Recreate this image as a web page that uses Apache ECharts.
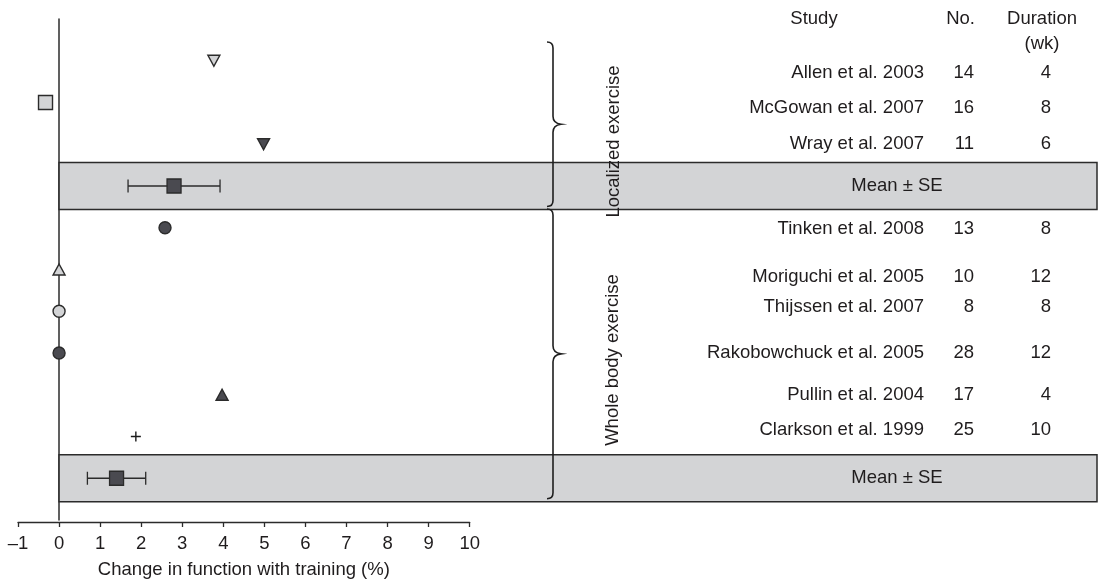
<!DOCTYPE html>
<html>
<head>
<meta charset="utf-8">
<title>Change in function with training</title>
<script src="https://cdn.jsdelivr.net/npm/echarts@6/dist/echarts.min.js"></script>
<style>
  html, body { margin: 0; padding: 0; background: #ffffff; }
  #chart { width: 1101px; height: 584px; }
</style>
</head>
<body>
<div id="chart"></div>
<script>
// ---- Data ---------------------------------------------------------------
const studies = [
  'Allen et al. 2003', 'McGowan et al. 2007', 'Wray et al. 2007',
  'Tinken et al. 2008', 'Moriguchi et al. 2005', 'Thijssen et al. 2007',
  'Rakobowchuck et al. 2005', 'Pullin et al. 2004', 'Clarkson et al. 1999'
];
const subjects = [14, 16, 11, 13, 10, 8, 28, 17, 25];
const durationWk = [4, 8, 6, 8, 12, 8, 12, 4, 10];
const changePct = [3.77, -0.33, 4.98, 2.58, 0, 0, 0, 3.97, 1.87];
const studyGroup = [0, 0, 0, 1, 1, 1, 1, 1, 1];
const groupNames = ['Localized exercise', 'Whole body exercise'];
const groupMean = [2.8, 1.4];
const groupSE = [1.12, 0.71];
const xTickMin = -1, xTickMax = 10, xTickStep = 1;

// ---- Styles & layout ----------------------------------------------------
const FONT = '"Liberation Sans", Arial, Helvetica, sans-serif';
const TEXT = '#1f1c1d';
const LINE = '#2b2b2b';
const LIGHT = '#d3d4d6';
const DARK = '#4a4a50';
const PLUS = 'path://M4.3,0h1.4v4.3h4.3v1.4h-4.3v4.3h-1.4v-4.3h-4.3v-1.4h4.3z';
const markerStyle = [
  { symbol: 'triangle', rotate: 180, fill: LIGHT, size: [12, 11] },
  { symbol: 'rect', rotate: 0, fill: LIGHT, size: 14 },
  { symbol: 'triangle', rotate: 180, fill: DARK, size: [12, 11] },
  { symbol: 'circle', rotate: 0, fill: DARK, size: 12 },
  { symbol: 'triangle', rotate: 0, fill: LIGHT, size: [12, 11] },
  { symbol: 'circle', rotate: 0, fill: LIGHT, size: 12 },
  { symbol: 'circle', rotate: 0, fill: DARK, size: 12 },
  { symbol: 'triangle', rotate: 0, fill: DARK, size: [12, 11] },
  { symbol: PLUS, rotate: 0, fill: '#1a1a1a', size: 10 }
];
const textNudge = [12, 5, 0, 1, 7, -4, 0, 0, -7]; // px shift of table text rows
const COL_STUDY_RIGHT = 924;
const COL_N_RIGHT = 974;
const COL_DUR_RIGHT = 1051;
const MEAN_TEXT_X = 897;
const BAND_RIGHT = 1097;
const BAND_HALF = 0.56;   // in row units
const BRACE_X = 553;
const FS = 18.5;

// ---- Row layout: studies of each group, then that group's mean row -------
const studyRow = [];
const meanRow = [];
let r = 0;
groupNames.forEach((g, gi) => {
  studies.forEach((s, i) => { if (studyGroup[i] === gi) studyRow[i] = r++; });
  meanRow[gi] = r++;
});
const firstRow = groupNames.map((g, gi) => Math.min(...studyRow.filter((_, i) => studyGroup[i] === gi)));

const scatterData = studies.map((s, i) => {
  const st = markerStyle[i];
  return {
    value: [changePct[i], studyRow[i]],
    symbol: st.symbol,
    symbolSize: st.size,
    symbolRotate: st.rotate,
    itemStyle: st.symbol === PLUS
      ? { color: st.fill, borderWidth: 0 }
      : { color: st.fill, borderColor: LINE, borderWidth: 1.4 }
  };
});

const textStyle = (text, align) => ({
  text, fill: TEXT, fontSize: FS, fontFamily: FONT, align, verticalAlign: 'middle'
});

const chart = echarts.init(document.getElementById('chart'), null, { renderer: 'canvas' });

chart.setOption({
  animation: false,
  backgroundColor: '#ffffff',
  grid: { left: 18, right: 631.3, top: 19, bottom: 62.4, containLabel: false },
  xAxis: {
    type: 'value',
    min: xTickMin, max: xTickMax, interval: xTickStep,
    offset: 2,
    name: 'Change in function with training (%)',
    nameLocation: 'middle',
    nameGap: 38,
    nameTextStyle: { fontSize: FS, fontFamily: FONT, color: TEXT },
    axisLine: { onZero: false, lineStyle: { color: LINE, width: 1.3 } },
    axisTick: { show: true, length: 5, lineStyle: { color: LINE, width: 1.3 } },
    axisLabel: {
      fontSize: FS, fontFamily: FONT, color: TEXT, margin: 12,
      formatter: v => String(v).replace('-', '\u2013')
    },
    splitLine: { show: false }
  },
  yAxis: {
    type: 'value', min: -1, max: 11, inverse: true,
    axisLine: { show: true, onZero: true, lineStyle: { color: LINE, width: 1.5 } },
    axisTick: { show: false }, axisLabel: { show: false }, splitLine: { show: false }
  },
  graphic: [
    { type: 'text', x: 814, y: 19, style: textStyle('Study', 'center') },
    { type: 'text', x: COL_N_RIGHT + 1, y: 19, style: textStyle('No.', 'right') },
    { type: 'text', x: 1042, y: 19, style: textStyle('Duration', 'center') },
    { type: 'text', x: 1042, y: 44, style: textStyle('(wk)', 'center') },
    { type: 'text', x: 614, y: 141.5, rotation: Math.PI / 2, z: 10, style: textStyle(groupNames[0], 'center') },
    { type: 'text', x: 613, y: 360, rotation: Math.PI / 2, z: 10, style: textStyle(groupNames[1], 'center') }
  ],
  series: [
    // shaded band behind each group's pooled estimate
    {
      type: 'custom', z: 1, silent: true,
      data: meanRow.map(row => [0, row]),
      encode: { x: 0, y: 1 },
      renderItem: (params, api) => {
        const row = api.value(1);
        const a = api.coord([0, row - BAND_HALF]);
        const b = api.coord([0, row + BAND_HALF]);
        const c = api.coord([0, row]);
        return {
          type: 'group',
          children: [
            {
              type: 'rect',
              shape: { x: a[0], y: a[1], width: BAND_RIGHT - a[0], height: b[1] - a[1] },
              style: { fill: LIGHT, stroke: LINE, lineWidth: 1.5 }
            },
            { type: 'text', x: MEAN_TEXT_X, y: c[1], style: textStyle('Mean \u00b1 SE', 'center') }
          ]
        };
      }
    },
    // curly braces marking each exercise group
    {
      type: 'custom', z: 3, silent: true,
      data: groupNames.map((g, gi) => [firstRow[gi], meanRow[gi]]),
      encode: { y: [0, 1] },
      renderItem: (params, api) => {
        const y0 = api.coord([0, api.value(0) - 0.45])[1];
        const y1 = api.coord([0, api.value(1) + 0.49])[1];
        const ym = (y0 + y1) / 2;
        const x = BRACE_X;
        const d = `M${x - 6},${y0} Q${x},${y0} ${x},${y0 + 6} L${x},${ym - 8} ` +
                  `Q${x},${ym - 1} ${x + 8},${ym} Q${x},${ym + 1} ${x},${ym + 8} ` +
                  `L${x},${y1 - 6} Q${x},${y1} ${x - 6},${y1}`;
        return {
          type: 'path',
          shape: { pathData: d },
          style: { fill: null, stroke: '#1f1f1f', lineWidth: 1.6 }
        };
      }
    },
    // standard-error whiskers for the pooled means
    {
      type: 'custom', z: 4, silent: true,
      data: groupMean.map((m, gi) => [m, meanRow[gi], groupSE[gi]]),
      encode: { x: 0, y: 1 },
      renderItem: (params, api) => {
        const m = api.value(0), row = api.value(1), se = api.value(2);
        const lo = api.coord([m - se, row]);
        const hi = api.coord([m + se, row]);
        const ls = { stroke: LINE, lineWidth: 1.3 };
        return {
          type: 'group',
          children: [
            { type: 'line', shape: { x1: lo[0], y1: lo[1], x2: hi[0], y2: hi[1] }, style: ls },
            { type: 'line', shape: { x1: lo[0], y1: lo[1] - 6.5, x2: lo[0], y2: lo[1] + 6.5 }, style: ls },
            { type: 'line', shape: { x1: hi[0], y1: hi[1] - 6.5, x2: hi[0], y2: hi[1] + 6.5 }, style: ls }
          ]
        };
      }
    },
    // pooled means
    {
      type: 'scatter', z: 5, silent: true,
      data: groupMean.map((m, gi) => [m, meanRow[gi]]),
      symbol: 'rect', symbolSize: 14,
      itemStyle: { color: DARK, borderColor: LINE, borderWidth: 1.3, opacity: 1 }
    },
    // individual studies
    {
      type: 'scatter', z: 5, silent: true, clip: false,
      data: scatterData,
      itemStyle: { opacity: 1 }
    },
    // study table: name, number of subjects, duration
    {
      type: 'custom', z: 6, silent: true,
      data: studies.map((s, i) => [0, studyRow[i]]),
      encode: { y: 1 },
      renderItem: (params, api) => {
        const i = params.dataIndex;
        const y = api.coord([0, api.value(1)])[1] + textNudge[i];
        return {
          type: 'group',
          children: [
            { type: 'text', x: COL_STUDY_RIGHT, y, style: textStyle(studies[i], 'right') },
            { type: 'text', x: COL_N_RIGHT, y, style: textStyle(String(subjects[i]), 'right') },
            { type: 'text', x: COL_DUR_RIGHT, y, style: textStyle(String(durationWk[i]), 'right') }
          ]
        };
      }
    }
  ]
});
</script>
</body>
</html>
